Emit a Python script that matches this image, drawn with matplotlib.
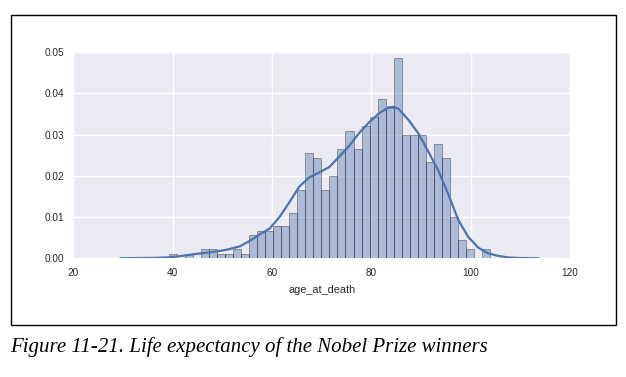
import matplotlib

matplotlib.use("Agg")
import matplotlib.pyplot as plt
import numpy as np
from matplotlib.patches import Rectangle

# histogram: 40 equal bins between youngest and oldest age at death
BIN_LO, BIN_HI, N_BINS = 39.2, 103.9, 40
COUNTS = [1, 0, 1, 0, 2, 2, 1, 1, 2, 1,
          5, 6, 6, 7, 7, 10, 15, 23, 22, 15,
          18, 24, 28, 24, 29, 31, 35, 33, 44, 27,
          27, 27, 21, 25, 22, 9, 4, 2, 0, 2]

# kde curve
KDE_AGE = [29.5, 33, 36, 39, 42, 45, 48, 51, 53.5, 55.5, 57.5, 59.5, 61.5, 63.5,
           65.5, 67.5, 69.5, 71.5, 73.5, 75.5, 77.5, 79.5, 81.5, 83.5, 84.5, 85.5,
           87.5, 89.5, 91.5, 93.5, 95.5, 97.5, 99.5, 101.5, 103.5, 105.5, 107.5,
           110, 113.6]
KDE_DENS = [0.0, 0.00005, 0.0001, 0.0002, 0.0006, 0.0011, 0.0015, 0.0021, 0.0029,
            0.0042, 0.0058, 0.0072, 0.0100, 0.0136, 0.0174, 0.0196, 0.0208, 0.0221,
            0.0246, 0.0272, 0.0303, 0.0329, 0.0351, 0.0366, 0.0367, 0.0362, 0.0335,
            0.0302, 0.0258, 0.0212, 0.0155, 0.0093, 0.0052, 0.0026, 0.0012, 0.0006,
            0.0002, 0.00005, 0.0]

XTICKS = [20, 40, 60, 80, 100, 120]
YTICKS = [0.00, 0.01, 0.02, 0.03, 0.04, 0.05]
CAPTION = "Figure 11-21. Life expectancy of the Nobel Prize winners"

BLUE = "#4C72B0"
TXT = "#262626"

plt.rcParams["font.family"] = ["Liberation Sans", "DejaVu Sans"]

fig = plt.figure(figsize=(6.26, 3.77), dpi=100)
ax = fig.add_axes([0.1174, 0.3149, 0.7931, 0.5472])
ax.set_facecolor("#EAEAF2")
for s in ax.spines.values():
    s.set_visible(False)
ax.grid(color="white", lw=1.0)
ax.set_axisbelow(True)

edges = np.linspace(BIN_LO, BIN_HI, N_BINS + 1)
ax.hist(edges[:-1], bins=edges, weights=COUNTS, density=True,
        color=BLUE, alpha=0.4, edgecolor="black", linewidth=0.6)
ax.plot(KDE_AGE, KDE_DENS, color=BLUE, lw=1.6)

ax.set_xlim(20, 120)
ax.set_ylim(0, 0.05)
ax.set_xticks(XTICKS)
ax.set_yticks(YTICKS)
ax.set_yticklabels([f"{v:.2f}" for v in YTICKS])
ax.tick_params(length=0, labelsize=7.2, labelcolor=TXT, pad=7)
ax.set_xlabel("age_at_death", fontsize=7.8, color=TXT, labelpad=5)

# book figure frame and caption
fig.patches.append(Rectangle((10.5 / 626, 1 - 324.5 / 377), 605 / 626, 310 / 377,
                             transform=fig.transFigure, fill=False,
                             edgecolor="black", lw=1.0))
fig.text(10 / 626, 1 - 352 / 377, CAPTION, fontsize=15, style="italic",
         family=["Liberation Serif", "DejaVu Serif"], color="black",
         ha="left", va="baseline")

fig.savefig("out.png", dpi=100)
